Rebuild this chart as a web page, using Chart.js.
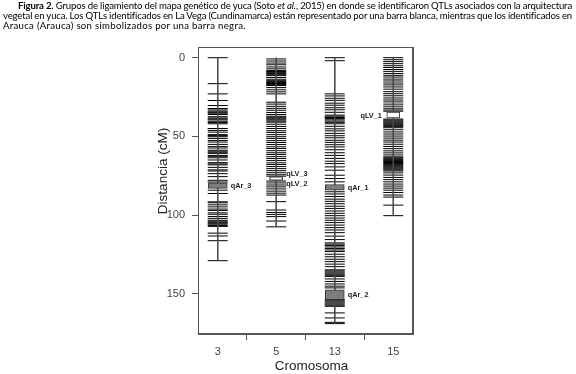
<!DOCTYPE html>
<html><head><meta charset="utf-8">
<script src="https://cdn.jsdelivr.net/npm/chart.js@4.4.1/dist/chart.umd.min.js"></script>
<style>
html,body{margin:0;padding:0;background:#fff;}
#wrap{position:relative;width:576px;height:374px;overflow:hidden;background:#fff;}
canvas{position:absolute;left:0;top:0;}
#cap{position:absolute;left:3px;top:0.5px;width:569px;font-family:Lato,'Open Sans',sans-serif;font-size:9.6px;line-height:10.4px;color:#000;z-index:2;}
#cap div{white-space:nowrap;}
#cap .j{text-align:justify;text-align-last:justify;letter-spacing:-0.15px;word-spacing:-1.5px;}
#cap .first{padding-left:15px;}
#cap .last{letter-spacing:0.3px;}
#frame{position:absolute;left:198px;top:47px;width:213px;height:285px;border:1px solid #555;pointer-events:none;z-index:3;}
</style></head>
<body>
<div id="wrap">
<div id="cap">
<div class="j first"><b>Figura 2.</b> Grupos de ligamiento del mapa genético de yuca (Soto <i>et al.</i>, 2015) en donde se identificaron QTLs asociados con la arquitectura</div>
<div class="j">vegetal en yuca. Los QTLs identificados en La Vega (Cundinamarca) están representado por una barra blanca, mientras que los identificados en</div>
<div class="last">Arauca (Arauca) son simbolizados por una barra negra.</div>
</div>
<canvas id="c" width="576" height="374"></canvas>
<div id="frame"></div>
</div>
<script>
// ---- data ----
const chromosomes = ['3', '5', '13', '15'];
const chromLengths = [129, 107.5, 169, 100.4];
const yTicks = [0, 50, 100, 150];

const chr3Markers = [0, 16.5, 23, 27.2, 30.4, 32.3, 33.2, 34, 34.7, 35.3, 36.1, 37.5, 38.3, 38.9, 39.5, 40.4, 41.2, 42, 45, 46.2, 47.3, 48.9, 49.5, 50.2, 51.3, 52.6, 53.6, 55.1, 56.5, 57.4, 58.8, 59.4, 60.1, 60.8, 62.1, 62.7, 63.6, 65, 66.7, 67.5, 68.1, 69.7, 71.3, 72, 73.7, 75.6, 77.9, 79, 84.2, 86.3, 91.6, 92.2, 93.5, 94.8, 96.2, 97.1, 98.6, 99.5, 100.9, 102.1, 103.3, 103.9, 104.6, 105.2, 105.8, 106.6, 107.2, 111.5, 113.3, 116.3, 129];
const chr5Markers = [0.8, 2.1, 3.4, 4.5, 5.9, 7.1, 8.2, 8.8, 9.5, 10.1, 10.8, 11.4, 12.6, 13.7, 14.6, 15.2, 15.8, 16.4, 17, 17.7, 19, 20.4, 21.7, 23, 28.3, 29.5, 30.9, 32.2, 33.4, 34.8, 36.1, 37.2, 37.8, 38.4, 39, 39.6, 40.3, 41, 42.3, 43.7, 45, 46.4, 47.5, 48.9, 50.2, 51.3, 52.7, 53.9, 55.2, 56.6, 57.7, 59.1, 60.4, 61.5, 62.9, 64.1, 65.4, 66.8, 67.9, 69.2, 70.5, 71.8, 73.1, 74.4, 75.3, 78.4, 79.6, 80.9, 82.1, 83.4, 84.8, 86.1, 87.3, 91.5, 96.8, 98.4, 99.6, 101, 103.8, 107.5];
const chr13Markers = [0, 1.9, 23, 24.3, 25.8, 27.1, 28.9, 30.2, 31.8, 33.1, 34.7, 36.5, 37.2, 38, 38.7, 39.5, 40.3, 41.1, 42, 43.6, 45.2, 46.5, 48.1, 49.6, 50.9, 52.5, 53.8, 55.3, 56.7, 58.5, 60.4, 62.1, 64, 65.8, 67.3, 69.4, 71.5, 74.7, 76.8, 78.9, 85.2, 86.6, 88.2, 89.9, 91.3, 92.8, 94.4, 95.8, 97.4, 98.9, 100.4, 101.9, 103.3, 104.8, 106.4, 108, 109.5, 111.2, 113.4, 115.6, 117.7, 118.5, 119.4, 120.3, 121.3, 122.2, 123.2, 124.9, 126.5, 128.1, 129.6, 131.2, 132.8, 134.8, 135.5, 136.2, 136.9, 137.6, 138.3, 139, 140.6, 142.2, 143.8, 145.2, 146.3, 153.8, 154.5, 155.2, 155.9, 156.6, 157.3, 158, 162.2, 165.4, 168.2, 169];
const chr15Markers = [0, 1.3, 2.5, 3.8, 5.1, 6.2, 7.5, 8.7, 10, 11.2, 12.3, 13.6, 14.8, 16.1, 17.3, 18.6, 20, 21.6, 22.9, 24.2, 25.6, 26.9, 28.1, 29.5, 30.8, 32.1, 33.2, 34, 39, 39.6, 40.2, 40.8, 41.4, 42, 42.6, 43.2, 43.8, 44.5, 45.8, 47.2, 48.5, 49.8, 51.1, 52.4, 53.6, 55, 56.4, 57.8, 59.2, 60.5, 61.8, 63, 63.6, 64.2, 64.8, 65.4, 66, 66.6, 67.2, 67.8, 68.4, 69, 69.6, 70.2, 70.8, 71.4, 72, 73.2, 74.6, 76.1, 77.5, 78.9, 80.3, 81.6, 82.9, 84.2, 85.7, 87.3, 88.6, 93.7, 100.4];

const qtlNames = ['qAr_3', 'qLV_3', 'qLV_2', 'qAr_1', 'qAr_2', 'qLV_1'];
const qtlChrom = ['3', '5', '5', '13', '13', '15'];
const qtlStart = [79.6, 75.7, 75.7, 80.6, 147.5, 34.6];
const qtlEnd = [83.1, 77.8, 77.8, 84.2, 153.8, 38.2];
const qtlSite = ['Arauca', 'La Vega', 'La Vega', 'Arauca', 'Arauca', 'La Vega'];

// ---- build ----
const markerSets = [chr3Markers, chr5Markers, chr13Markers, chr15Markers];
const xOf = c => chromosomes.indexOf(c) + 1;
const datasets = [];

chromosomes.forEach((c, i) => {
  datasets.push({
    type: 'line',
    label: 'cromosoma ' + c,
    data: [{x: i + 1, y: 0}, {x: i + 1, y: chromLengths[i]}],
    borderColor: '#4a4a4a', borderWidth: 1, pointRadius: 0, fill: false, order: 2
  });
  datasets.push({
    type: 'scatter',
    label: 'marcadores ' + c,
    data: markerSets[i].map(v => ({x: i + 1, y: v})),
    pointStyle: 'line', pointRadius: 10, pointHoverRadius: 10,
    borderColor: '#000', borderWidth: 1, showLine: false, order: 3
  });
});

const qtlIdx = qtlNames.map((n, i) => i);
const arIdx = qtlIdx.filter(i => qtlSite[i] === 'Arauca');
const lvIdx = qtlIdx.filter(i => qtlSite[i] === 'La Vega');
datasets.push({
  type: 'bar', label: 'QTL Arauca',
  data: arIdx.map(i => ({x: xOf(qtlChrom[i]), y: [qtlStart[i], qtlEnd[i]]})),
  backgroundColor: '#7d7d7d', borderColor: '#333', borderWidth: 1,
  borderSkipped: false, barThickness: 19, grouped: false, order: 1
});
datasets.push({
  type: 'bar', label: 'QTL La Vega',
  data: lvIdx.map(i => ({x: xOf(qtlChrom[i]), y: [qtlStart[i], qtlEnd[i]]})),
  backgroundColor: '#ffffff', borderColor: '#333', borderWidth: 1,
  borderSkipped: false, barThickness: 13, grouped: false, order: 1
});

const decor = {
  id: 'decor',
  afterDraw(chart) {
    const ctx = chart.ctx;
    const xs = chart.scales.x, ys = chart.scales.y;
    ctx.save();
    // QTL labels
    ctx.font = 'bold 7.3px "Liberation Sans", Arial, sans-serif';
    ctx.fillStyle = '#222';
    ctx.textBaseline = 'middle';
    const seen = {};
    qtlIdx.forEach(i => {
      const key = qtlChrom[i] + '_' + qtlStart[i];
      const k = seen[key] || 0; seen[key] = k + 1;
      const cx = xs.getPixelForValue(xOf(qtlChrom[i]));
      let cy = ys.getPixelForValue((qtlStart[i] + qtlEnd[i]) / 2);
      const dup = qtlIdx.filter(j => qtlChrom[j] + '_' + qtlStart[j] === key).length > 1;
      if (dup) cy += (k === 0 ? -4.5 : 5.5);
      if (qtlChrom[i] === '15') {
        ctx.textAlign = 'right';
        ctx.fillText(qtlNames[i], cx - 11.5, cy + 1.5);
      } else {
        ctx.textAlign = 'left';
        const half = qtlSite[i] === 'Arauca' ? 10 : 7;
        ctx.fillText(qtlNames[i], cx + half + 3, cy + 0.5);
      }
    });
    // axis titles
    ctx.fillStyle = '#222';
    ctx.font = '13.5px "Liberation Sans", Arial, sans-serif';
    ctx.textAlign = 'center';
    ctx.fillText('Cromosoma', 311.5, 366);
    ctx.translate(163, 171);
    ctx.rotate(-Math.PI / 2);
    ctx.fillText('Distancia (cM)', 0, 0);
    ctx.restore();
  }
};

const frameBorder = {display: true, color: '#555', width: 1};
Chart.defaults.font.family = '"Liberation Sans", Arial, sans-serif';
new Chart(document.getElementById('c'), {
  type: 'scatter',
  data: {datasets},
  options: {
    responsive: false, animation: false,
    events: [],
    layout: {padding: {left: 150, right: 163, top: 47, bottom: 0}},
    plugins: {legend: {display: false}, tooltip: {enabled: false}},
    scales: {
      x: {
        type: 'linear', position: 'bottom', min: 0.663, max: 4.337, offset: false,
        afterBuildTicks: s => { s.ticks = chromosomes.map((c, i) => ({value: i + 1})); },
        afterFit: s => { s.height = 40; },
        ticks: {callback: (v) => chromosomes[Math.round(v) - 1], color: '#444', font: {size: 11}, padding: 5, maxRotation: 0},
        grid: {display: true, drawOnChartArea: false, drawTicks: true, tickLength: 6, color: '#555'},
        border: frameBorder
      },
      y: {
        type: 'linear', position: 'left', reverse: true, min: -6.8, max: 175.6,
        afterBuildTicks: s => { s.ticks = yTicks.map(v => ({value: v})); },
        afterFit: s => { s.width = 48; },
        ticks: {color: '#444', font: {size: 11}, padding: 7},
        grid: {display: true, drawOnChartArea: false, drawTicks: true, tickLength: 6, color: '#555'},
        border: frameBorder
      },
      xTop: {
        type: 'linear', position: 'top', min: 0.663, max: 4.337, offset: false,
        afterFit: s => { s.height = 0; },
        ticks: {display: false},
        grid: {display: false, drawTicks: false},
        border: frameBorder
      },
      yRight: {
        type: 'linear', position: 'right', min: -6.8, max: 175.6,
        afterFit: s => { s.width = 0; },
        ticks: {display: false},
        grid: {display: false, drawTicks: false},
        border: frameBorder
      }
    }
  },
  plugins: [decor]
});
</script>
</body></html>
